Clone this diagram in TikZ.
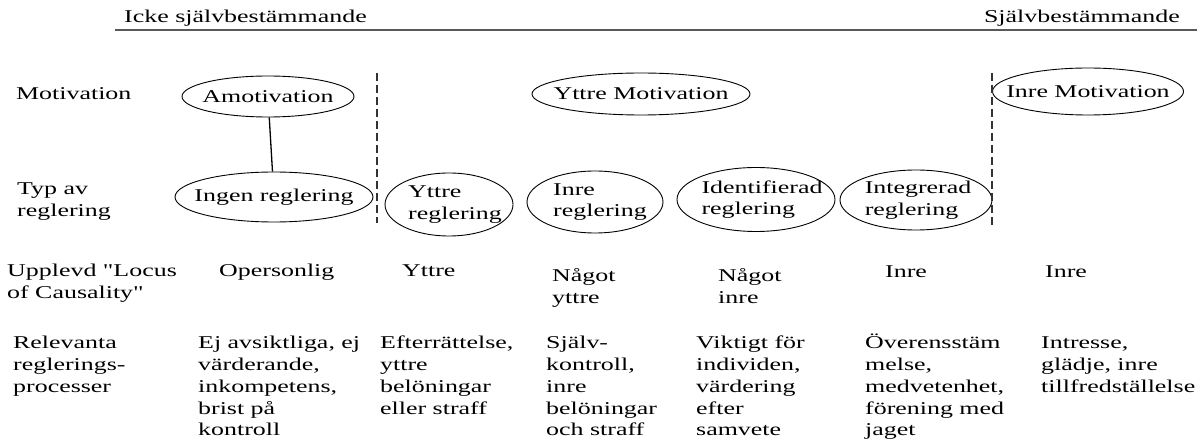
\documentclass[tikz,border=0pt]{standalone}
\usepackage{fontspec}
\setmainfont[FakeStretch=1.44,Ligatures=TeXOff]{Liberation Serif}
\usetikzlibrary{shapes.geometric}
\begin{document}
\begin{tikzpicture}[x=1pt,y=-1pt,
  every node/.style={font=\fontsize{18}{21.7}\selectfont},
  ell/.style={draw, ellipse, inner sep=0pt, line width=0.9pt},
  lbl/.style={anchor=base west, inner sep=0pt, align=left},
  dividerline/.style={dash pattern=on 8pt off 4pt, line width=1.8pt, draw=black!80},
  topline/.style={line width=2pt, draw=black!65}]
\useasboundingbox (0,0) rectangle (1197,443);

% title row
\node[lbl] (icke) at (124,23) {Icke självbestämmande};
\node[anchor=base east, inner sep=0pt] (sjalv) at (1180,23) {Självbestämmande};
\coordinate (tl) at (115,30);
\coordinate (tr) at (1197,30);
\draw[topline] (tl) -- (tr);

% row labels (base anchor = baseline of the last line)
\node[lbl] (motiv) at (16,100) {Motivation};
\node[lbl] (typ) at (17,216.5) {Typ av\\reglering};
\node[lbl] (upplevd) at (7,298.7) {Upplevd "Locus\\of Causality"};
\node[lbl] (relev) at (13,392.4) {Relevanta\\reglerings-\\processer};

% motivation ellipses
\node[ell, minimum width=172, minimum height=41, label={center:Amotivation}] (amot) at (268,96.5) {};
\node[ell, minimum width=218, minimum height=42, label={center:Yttre Motivation}] (ymot) at (641,94) {};
\node[ell, minimum width=191, minimum height=47, label={center:Inre Motivation}] (imot) at (1088,91.5) {};

% regulation ellipses
\node[ell, minimum width=198, minimum height=50, label={center:Ingen reglering}] (ingen) at (274,197) {};
\node[ell, minimum width=128, minimum height=63, label={[align=left, xshift=6pt]center:Yttre\\reglering}] (yreg) at (449,204.5) {};
\node[ell, minimum width=136, minimum height=62, label={[align=left, xshift=5pt]center:Inre\\reglering}] (ireg) at (595,202) {};
\node[ell, minimum width=158, minimum height=64, label={[align=left, xshift=6pt]center:Identifierad\\reglering}] (idreg) at (756,199.5) {};
\node[ell, minimum width=152, minimum height=60, label={[align=left, xshift=2pt]center:Integrerad\\reglering}] (inreg) at (916,200) {};

\draw[line width=1.3pt] (amot) -- (ingen);

% dashed dividers
\coordinate (d1t) at (377,73);
\coordinate (d1b) at (377,223);
\coordinate (d2t) at (992,73);
\coordinate (d2b) at (992,227);
\draw[dividerline] (d1t) -- (d1b);
\draw[dividerline] (d2t) -- (d2b);

% locus of causality row
\node[lbl] (l1) at (219,277) {Opersonlig};
\node[lbl] (l2) at (402,277) {Yttre};
\node[lbl] (l3) at (552,303.7) {Något\\yttre};
\node[lbl] (l4) at (718,303.7) {Något\\inre};
\node[lbl] (l5) at (885,278) {Inre};
\node[lbl] (l6) at (1045,278) {Inre};

% processes row
\node[lbl] (p1) at (198,435.8) {Ej avsiktliga, ej\\värderande,\\inkompetens,\\brist på\\kontroll};
\node[lbl] (p2) at (380,414.1) {Efterrättelse,\\yttre\\belöningar\\eller straff};
\node[lbl] (p3) at (546,435.8) {Själv-\\kontroll,\\inre\\belöningar\\och straff};
\node[lbl] (p4) at (696,435.8) {Viktigt för\\individen,\\värdering\\efter\\samvete};
\node[lbl] (p5) at (865,435.8) {Överensstäm\\melse,\\medvetenhet,\\förening med\\jaget};
\node[lbl] (p6) at (1041,392.4) {Intresse,\\glädje, inre\\tillfredställelse};
\end{tikzpicture}
\end{document}
